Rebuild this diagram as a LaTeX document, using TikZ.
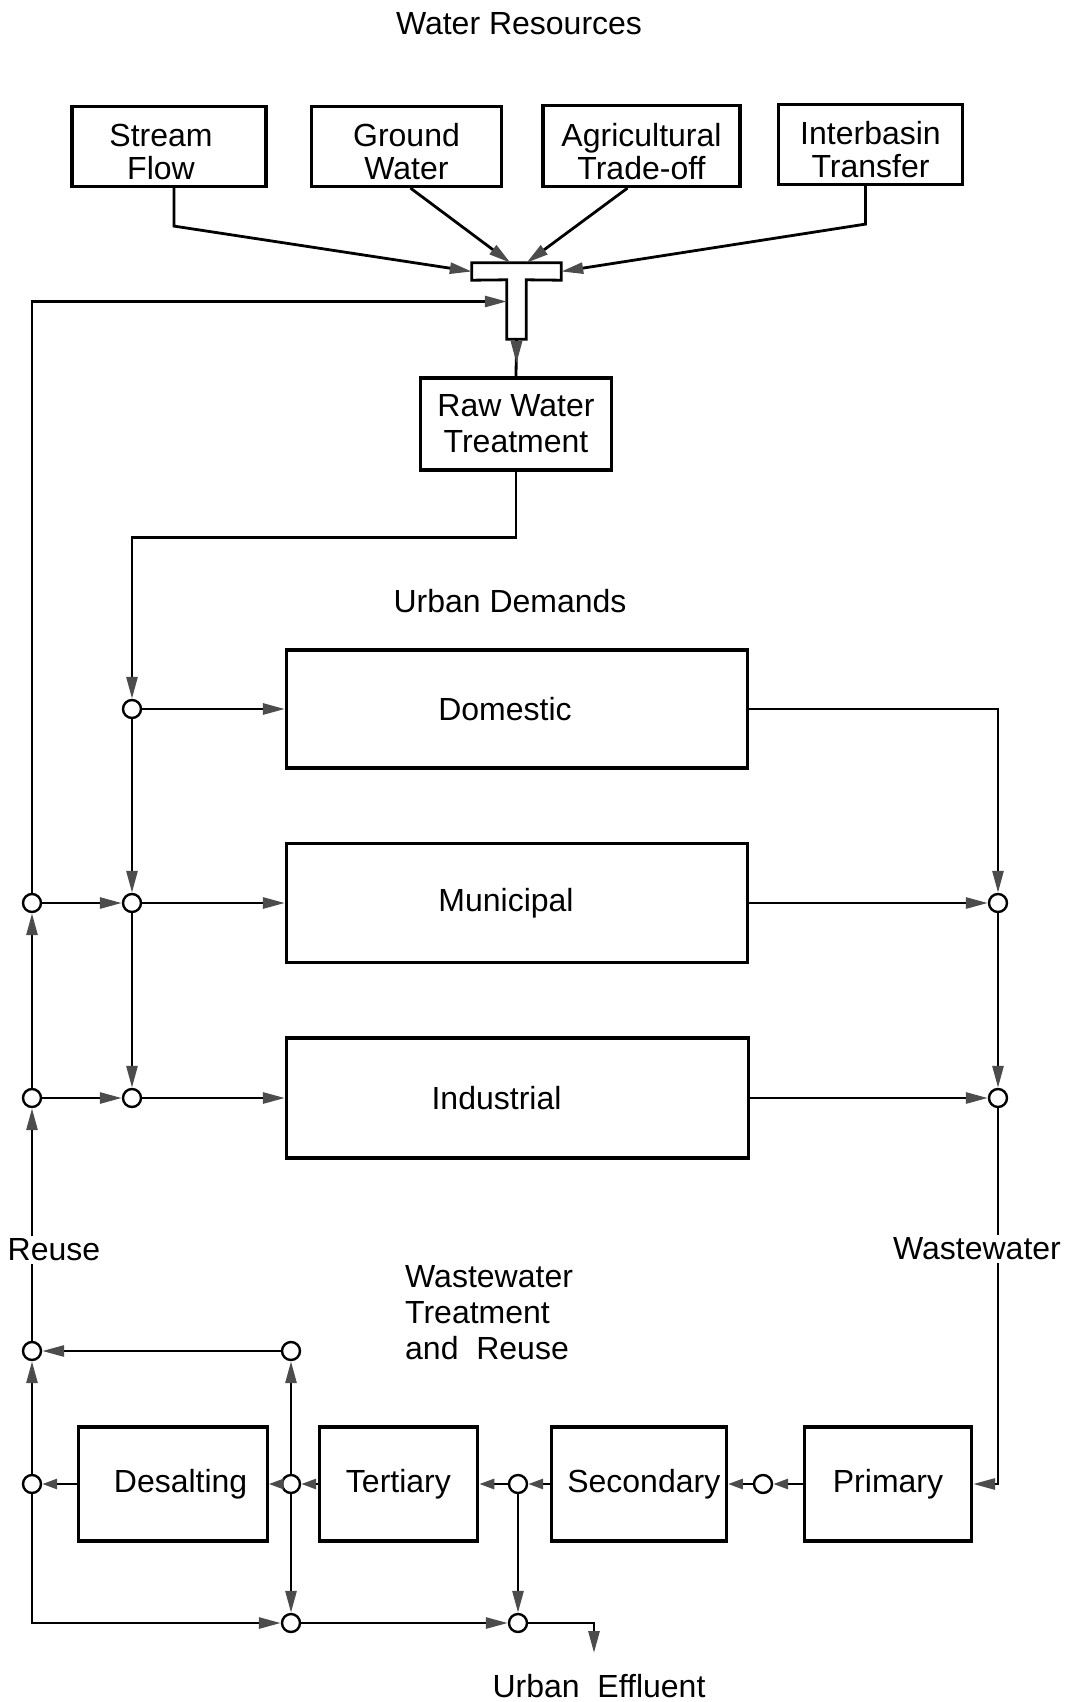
\documentclass[tikz,border=0pt]{standalone}
\usepackage{fontspec}
\setmainfont{Liberation Sans}
\usetikzlibrary{arrows.meta}
\newcommand{\dgfont}{\fontsize{32}{33}\selectfont}
\newcommand{\dgfontw}{\fontsize{32}{36}\selectfont}
\begin{document}
\begin{tikzpicture}[x=1pt,y=-1pt,
  box/.style={draw, line width=3.2pt, inner sep=0pt, align=center, font=\dgfont},
  jn/.style={circle, draw, line width=2.4pt, fill=white, minimum size=18pt, inner sep=0pt},
  conn/.style={line width=2.8pt},
  flow/.style={conn, -{Triangle[length=22pt,width=11pt,color=black!70]}},
  sflow/.style={conn, -{Triangle[length=15pt,width=10pt,color=black!70]}},
  lbl/.style={font=\dgfont, inner sep=3pt}]
\fill[white] (0,0) rectangle (1068,1702);
\useasboundingbox (0,0) rectangle (1068,1702);

% titles
\node[lbl] (title) at (519,24) {Water Resources};
\node[lbl] (urb) at (510,601) {Urban Demands};

% sources
\node[box, minimum width=194pt, minimum height=80pt] (sf) at (169,146.5) {\rule{0pt}{34pt}\hspace*{-16pt}Stream\\\hspace*{-16pt}Flow};
\node[box, minimum width=190pt, minimum height=80pt] (gw) at (406.5,146.5) {\rule{0pt}{34pt}Ground\\Water};
\node[box, minimum width=197pt, minimum height=81pt] (ag) at (641.5,146) {\rule{0pt}{34pt}Agricultural\\Trade-off};
\node[box, minimum width=184pt, minimum height=80pt] (ib) at (870.5,144.5) {\rule{0pt}{34pt}Interbasin\\Transfer};

% T junction
\node[minimum width=89pt, minimum height=17pt, inner sep=0pt] (tbar) at (516.5,271.5) {};
\node[minimum width=19pt, minimum height=59pt, inner sep=0pt] (tstem) at (516.5,309.5) {};
\draw[line width=2.8pt] (tbar.north west) -- (tbar.north east) -- (tbar.south east)
  -- (tstem.north east) -- (tstem.south east) -- (tstem.south west)
  -- (tstem.north west) -- (tbar.south west) -- cycle;

\draw[flow] ([xshift=5pt]sf.south) -- ++(0,38) -- (tbar.west);
\draw[flow] ([xshift=4pt]gw.south) -- ([xshift=-6pt]tbar.north);
\draw[flow] ([xshift=-14pt]ag.south) -- ([xshift=10pt]tbar.north);
\draw[flow] ([xshift=-5pt]ib.south) -- ++(0,38) -- (tbar.east);

% raw water treatment
\node[box, font=\dgfontw, minimum width=191pt, minimum height=92pt] (rwt) at (516,424) {Raw Water\\Treatment};
\draw[conn] (tstem.south) -- (rwt.north);
\draw[flow] (tstem.south) -- ([yshift=-24pt]tstem.south);

% urban demands
\node[box, minimum width=461pt, minimum height=118pt] (dom) at (517,709) {\hspace*{-24pt}Domestic};
\node[box, minimum width=461pt, minimum height=119pt] (mun) at (517,903) {\hspace*{-22pt}Municipal};
\node[box, minimum width=462pt, minimum height=120pt] (ind) at (517.5,1098) {\hspace*{-42pt}Industrial};

\node[jn] (dj) at (132,709) {};
\node[jn] (mj) at (132,903) {};
\node[jn] (ij) at (132,1098) {};
\node[jn] (lm) at (32,903) {};
\node[jn] (li) at (32,1098) {};
\node[jn] (rm) at (998,903) {};
\node[jn] (ri) at (998,1098) {};

\draw[flow] (rwt.south) -- ++(0,66) -| (dj.north);
\draw[flow] (dj.east) -- (dom.west);
\draw[flow] (dj.south) -- (mj.north);
\draw[flow] (mj.east) -- (mun.west);
\draw[flow] (mj.south) -- (ij.north);
\draw[flow] (ij.east) -- (ind.west);
\draw[flow] (lm.east) -- (mj.west);
\draw[flow] (li.east) -- (ij.west);
\draw[flow] (li.north) -- (lm.south);
\draw[flow] (lm.north) |- ([yshift=8pt]tstem.west);

\draw[flow] (dom.east) -| (rm.north);
\draw[flow] (mun.east) -- (rm.west);
\draw[flow] (rm.south) -- (ri.north);
\draw[flow] (ind.east) -- (ri.west);

% treatment
\node[box, minimum width=189pt, minimum height=114pt] (des) at (172.6,1484) {Desalting\hspace*{-16pt}};
\node[box, minimum width=158.5pt, minimum height=114pt] (ter) at (398.4,1484) {Tertiary};
\node[box, minimum width=175pt, minimum height=114pt] (sec) at (638.8,1484) {Secondary\hspace*{-10pt}};
\node[box, minimum width=167pt, minimum height=114pt] (pri) at (888,1484) {Primary};

\node[jn] (c1) at (32,1484) {};
\node[jn] (c2) at (291,1484) {};
\node[jn] (c3) at (518,1484) {};
\node[jn] (c4) at (763,1484) {};
\node[jn] (t1) at (32,1351) {};
\node[jn] (t2) at (291,1351) {};
\node[jn] (b2) at (291,1623) {};
\node[jn] (b3) at (518,1623) {};
\coordinate (eff) at (594,1653);

\draw[flow] (ri.south) |- (pri.east);
\draw[sflow] (pri.west) -- (c4.east);
\draw[sflow] (c4.west) -- (sec.east);
\draw[sflow] (sec.west) -- (c3.east);
\draw[sflow] (c3.west) -- (ter.east);
\draw[sflow] (ter.west) -- (c2.east);
\draw[sflow] (c2.west) -- (des.east);
\draw[sflow] (des.west) -- (c1.east);
\draw[flow] (c1.north) -- (t1.south);
\draw[flow] (c2.north) -- (t2.south);
\draw[flow] (t2.west) -- (t1.east);
\draw[flow] (t1.north) -- (li.south);
\draw[flow] (c1.south) |- (b2.west);
\draw[flow] (c2.south) -- (b2.north);
\draw[flow] (c3.south) -- (b3.north);
\draw[flow] (b2.east) -- (b3.west);
\draw[flow] (b3.east) -| (eff);

% labels
\node[lbl, fill=white] (reuse) at (54,1250) {Reuse};
\node[lbl, fill=white] (ww) at (977,1249) {Wastewater};
\node[lbl, align=left, anchor=west, font=\dgfontw] (wtr) at (402,1313) {Wastewater\\Treatment\\and\ \ Reuse};
\node[lbl] (efft) at (599,1686) {Urban\ \ Effluent};
\end{tikzpicture}
\end{document}
